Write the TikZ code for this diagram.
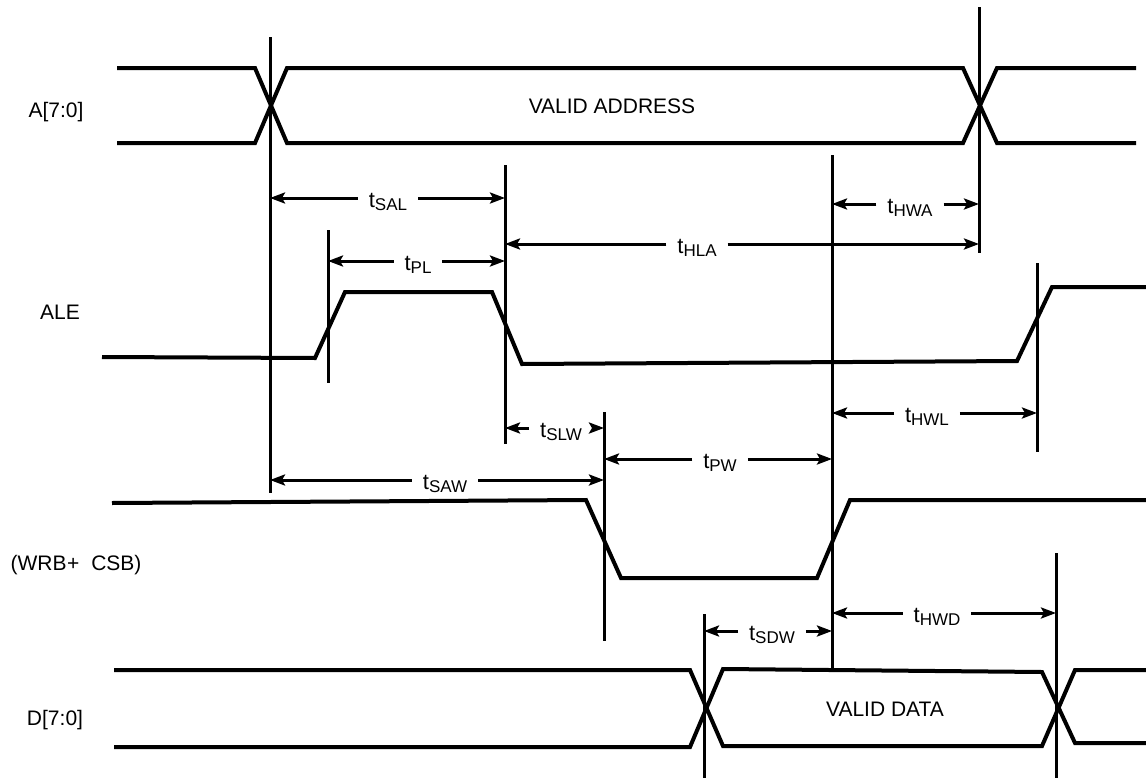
\documentclass[tikz,border=0pt]{standalone}
\usepackage{fontspec}
\setmainfont{Liberation Sans}
\usetikzlibrary{arrows.meta}
\newcommand{\tsub}[1]{t\raisebox{-3pt}{\fontsize{17}{17}\selectfont #1}}
\begin{document}
\begin{tikzpicture}[x=1pt,y=-1pt,
  sig/.style={line width=4pt},
  vline/.style={line width=3pt},
  dim/.style={line width=3pt,-{Stealth[length=15pt,width=11pt,inset=3pt]}},
  tlbl/.style={font=\fontsize{22}{22}\selectfont, inner xsep=11pt, inner ysep=0pt, outer sep=0pt, anchor=base},
  siglbl/.style={font=\fontsize{21}{21}\selectfont, anchor=base, inner sep=0pt}
]
\useasboundingbox (0,0) rectangle (1146,779);

% signal names
\node[siglbl] (nA) at (56,117) {A[7:0]};
\node[siglbl] (nALE) at (60,319) {ALE};
\node[siglbl] (nWR) at (76,570) {(WRB\kern0.5pt+\kern12pt CSB)};
\node[siglbl] (nD) at (55,725) {D[7:0]};
\node[siglbl] (nVA) at (612,113) {VALID ADDRESS};
\node[siglbl] (nVD) at (885,716) {VALID DATA};

% A[7:0] bus
\draw[sig] (117,68) -- (255,68) -- (287,143) -- (963,143) -- (997,68) -- (1136,68);
\draw[sig] (117,143) -- (255,143) -- (287,68) -- (963,68) -- (997,143) -- (1136,143);

% ALE
\draw[sig] (102,357) -- (315,358) -- (345,292) -- (492,292) -- (522,364) -- (1017,361) -- (1052,287) -- (1146,287);

% WRB + CSB
\draw[sig] (112,503) -- (586,500) -- (621,578) -- (817,578) -- (850,500) -- (1146,500);

% D[7:0] bus
\draw[sig] (114,670) -- (690,670) -- (723,746) -- (1042,746) -- (1075,670) -- (1146,670);
\draw[sig] (114,747) -- (690,747) -- (723,669) -- (1042,672) -- (1075,743) -- (1146,743);

% vertical reference lines
\foreach \i/\x/\ya/\yb in {1/270/37/493, 2/328/230/383, 3/505/165/444, 4/604/412/641,
  5/832/155/668, 6/979/7/253, 7/1037/263/452, 8/704/614/778, 9/1056/553/778} {
  \coordinate (vt\i) at (\x,\ya);
  \coordinate (vb\i) at (\x,\yb);
  \draw[vline] (vt\i) -- (vb\i);
}

% timing dimensions
\foreach \n/\y/\xa/\xb/\xl in {SAL/198/270/505/388, PL/261/328/505/418, HLA/244/505/979/697,
  HWA/204/832/979/910, SLW/428/505/604/561, HWL/413/832/1037/927, SAW/480/270/604/445,
  PW/459/604/832/720, HWD/613/832/1056/937, SDW/631/704/832/772} {
  \coordinate (L\n) at (\xa,\y);
  \coordinate (R\n) at (\xb,\y);
  \node[tlbl] (lbl\n) at (\xl,\y+9) {\tsub{\n}};
  \draw[dim] (lbl\n.west |- L\n) -- (L\n);
  \draw[dim] (lbl\n.east |- R\n) -- (R\n);
}
\end{tikzpicture}
\end{document}
